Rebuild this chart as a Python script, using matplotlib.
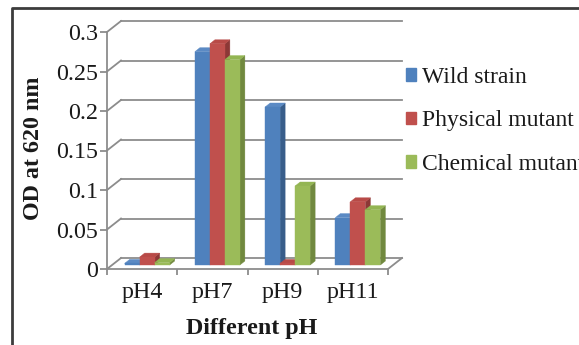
import matplotlib
matplotlib.use("Agg")
import matplotlib.pyplot as plt
from matplotlib.patches import Polygon, Patch
from matplotlib.lines import Line2D
from matplotlib.transforms import IdentityTransform
import numpy as np

categories = ["pH4", "pH7", "pH9", "pH11"]
series_names = ["Wild strain", "Physical mutant", "Chemical mutant"]
wild = [0.002, 0.27, 0.20, 0.06]
physical = [0.010, 0.28, 0.002, 0.08]
chemical = [0.003, 0.26, 0.10, 0.07]
yticks = [0, 0.05, 0.1, 0.15, 0.2, 0.25, 0.3]
ytick_labels = ["0", "0.05", "0.1", "0.15", "0.2", "0.25", "0.3"]

front_cols = ["#4F81BD", "#C0504D", "#9BBB59"]
side_cols = ["#385D8A", "#8C3836", "#71893F"]
top_cols = ["#5B8AC4", "#B84A47", "#93B553"]

DPI = 100
W, H = 579, 345
fig = plt.figure(figsize=(W / DPI, H / DPI), dpi=DPI)
fig.patch.set_facecolor("white")

ax_left, ax_right, ax_bot, ax_top = 107, 388, 76, 313
ax = fig.add_axes([ax_left / W, ax_bot / H, (ax_right - ax_left) / W, (ax_top - ax_bot) / H])
ax.set_xlim(-0.5, len(categories) - 0.5)
ax.set_ylim(0, 0.3)
ax.set_facecolor("none")

grid_col = "#8C8C8C"
text_col = "#1a1a1a"
serif = ["Liberation Serif", "DejaVu Serif"]
tick_fs = 17.3
label_fs = 17.3

for s in ["top", "right"]:
    ax.spines[s].set_visible(False)
for s in ["left", "bottom"]:
    ax.spines[s].set_color(grid_col)
    ax.spines[s].set_linewidth(1.3)

ax.set_yticks(yticks)
ax.set_yticklabels(ytick_labels)
ax.set_xticks(range(len(categories)))
ax.set_xticklabels(categories)
ax.set_xticks(np.arange(-0.5, len(categories)), minor=True)
ax.tick_params(axis="x", which="major", length=0, pad=9.5, labelsize=tick_fs, labelcolor=text_col)
ax.tick_params(axis="x", which="minor", length=4.5, width=1.3, color=grid_col, direction="out")
ax.tick_params(axis="y", which="major", length=5, width=1.3, color=grid_col, pad=1.5,
               labelsize=tick_fs, labelcolor=text_col)
for lab in ax.get_xticklabels() + ax.get_yticklabels():
    lab.set_family(serif)

# pixel offsets (display coords, y up)
BACK = (14, 11)
BAR_FRONT = (5, 4)
BAR_BACK = (10, 8)


def disp(x, y, off=(0, 0)):
    px, py = ax.transData.transform((x, y))
    return (px + off[0], py + off[1])


def line_disp(p1, p2, **kw):
    ln = Line2D([p1[0], p2[0]], [p1[1], p2[1]], transform=IdentityTransform(), **kw)
    ln.set_clip_on(False)
    fig.add_artist(ln)


x0, x1 = -0.5, len(categories) - 0.5
# back wall gridlines and left wall diagonals
for v in yticks:
    line_disp(disp(x0, v), disp(x0, v, BACK), color=grid_col, lw=1.3, zorder=1)
    line_disp(disp(x0, v, BACK), disp(x1, v, BACK), color=grid_col, lw=1.3, zorder=1)
# floor right edge
line_disp(disp(x1, 0), disp(x1, 0, BACK), color=grid_col, lw=1.3, zorder=1)

# bars
w = 0.2135
series = [wild, physical, chemical]
z = 2
for ci in range(len(categories)):
    for si, vals in enumerate(series):
        v = vals[ci]
        xl = ci + (si - 1.5) * w
        xr = xl + w
        f = [disp(xl, 0, BAR_FRONT), disp(xr, 0, BAR_FRONT), disp(xr, v, BAR_FRONT), disp(xl, v, BAR_FRONT)]
        side = [disp(xr, 0, BAR_FRONT), disp(xr, 0, BAR_BACK), disp(xr, v, BAR_BACK), disp(xr, v, BAR_FRONT)]
        top = [disp(xl, v, BAR_FRONT), disp(xr, v, BAR_FRONT), disp(xr, v, BAR_BACK), disp(xl, v, BAR_BACK)]
        for verts, col in ((side, side_cols[si]), (top, top_cols[si]), (f, front_cols[si])):
            p = Polygon(verts, closed=True, facecolor=col, edgecolor=col, lw=0.3,
                        transform=IdentityTransform(), zorder=z)
            p.set_clip_on(False)
            fig.add_artist(p)
            z += 0.01

ax.set_xlabel("Different pH", fontsize=label_fs, fontweight="bold", family=serif, color=text_col)
ax.xaxis.set_label_coords(0.516, -0.205)
ax.set_ylabel("OD at 620 nm", fontsize=label_fs, fontweight="bold", family=serif, color=text_col)
ax.yaxis.set_label_coords(-0.225, 0.51)

handles = [Patch(facecolor=c, edgecolor=c) for c in front_cols]
leg = fig.legend(handles, series_names, loc="upper left", bbox_to_anchor=(406 / W, 1 - 67 / H),
                 frameon=False, prop={"family": serif, "size": 17}, handlelength=0.42,
                 handleheight=0.42, handletextpad=0.25, labelspacing=0.95, borderpad=0,
                 borderaxespad=0)
for t in leg.get_texts():
    t.set_color(text_col)

# outer chart border
border = Line2D([12 / W, 12 / W, 1.05], [-0.05, 1 - 8 / H, 1 - 8 / H], transform=fig.transFigure,
                color="#3c3c3c", lw=2)
border.set_clip_on(False)
fig.add_artist(border)

fig.savefig("out.png", dpi=DPI)
